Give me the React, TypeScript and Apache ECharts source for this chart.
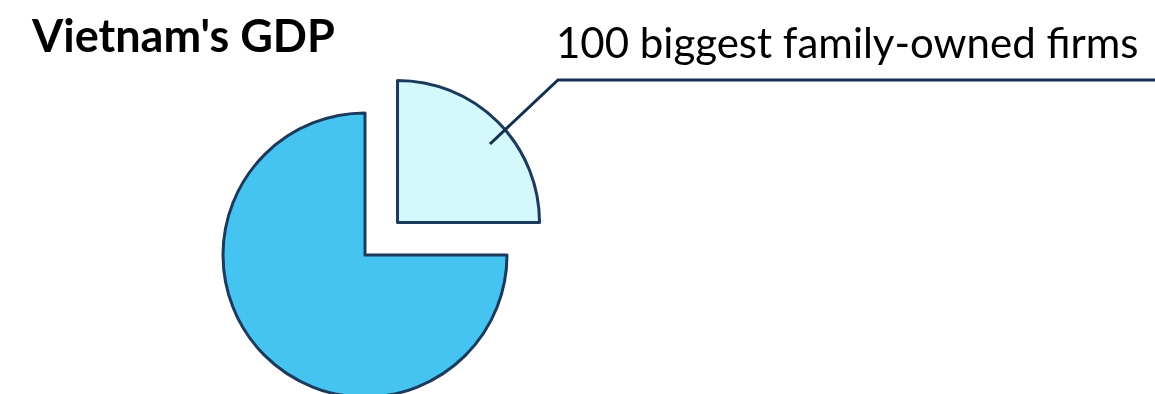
import React, { useEffect, useRef } from "react";
import * as echarts from "echarts";

const titleText = "Vietnam's GDP";
const sliceNames = ["100 biggest family-owned firms", "Rest of economy"];
const sliceValues = [25, 75];
const sliceColors = ["#D4F8FC", "#45C4F1"];

export default function App() {
  const ref = useRef<HTMLDivElement>(null);
  useEffect(() => {
    const chart = echarts.init(ref.current!, null, { renderer: "svg" });
    chart.setOption({
      animation: false,
      title: {
        text: titleText,
        left: 27,
        top: 7,
        textStyle: { fontFamily: "Lato", fontWeight: "bold", fontSize: 45, color: "#000" },
      },
      graphic: [
        {
          type: "polyline",
          shape: {
            points: [
              [490, 144],
              [558, 80],
              [1160, 80],
            ],
          },
          style: { stroke: "#14304F", lineWidth: 3, fill: null },
          z: 10,
        },
        {
          type: "text",
          x: 556,
          y: 21,
          style: {
            text: sliceNames[0],
            fontFamily: "Lato",
            fontSize: 42,
            fill: "#000",
            verticalAlign: "top",
            align: "left",
          },
          z: 10,
        },
      ],
      series: [
        {
          type: "pie",
          center: [365, 255],
          radius: 142,
          startAngle: 90,
          clockwise: true,
          selectedMode: "multiple",
          selectedOffset: 46,
          itemStyle: { borderColor: "#1B3A5C", borderWidth: 3 },
          label: { show: false },
          labelLine: { show: false },
          data: sliceNames.map((n, i) => ({
            name: n,
            value: sliceValues[i],
            selected: i === 0,
            itemStyle: { color: sliceColors[i] },
          })),
          emphasis: { disabled: true },
        },
      ],
    });
    return () => chart.dispose();
  }, []);
  return (
    <div
      ref={ref}
      style={{ position: "fixed", left: 0, top: 0, width: 1155, height: 394 }}
    />
  );
}
